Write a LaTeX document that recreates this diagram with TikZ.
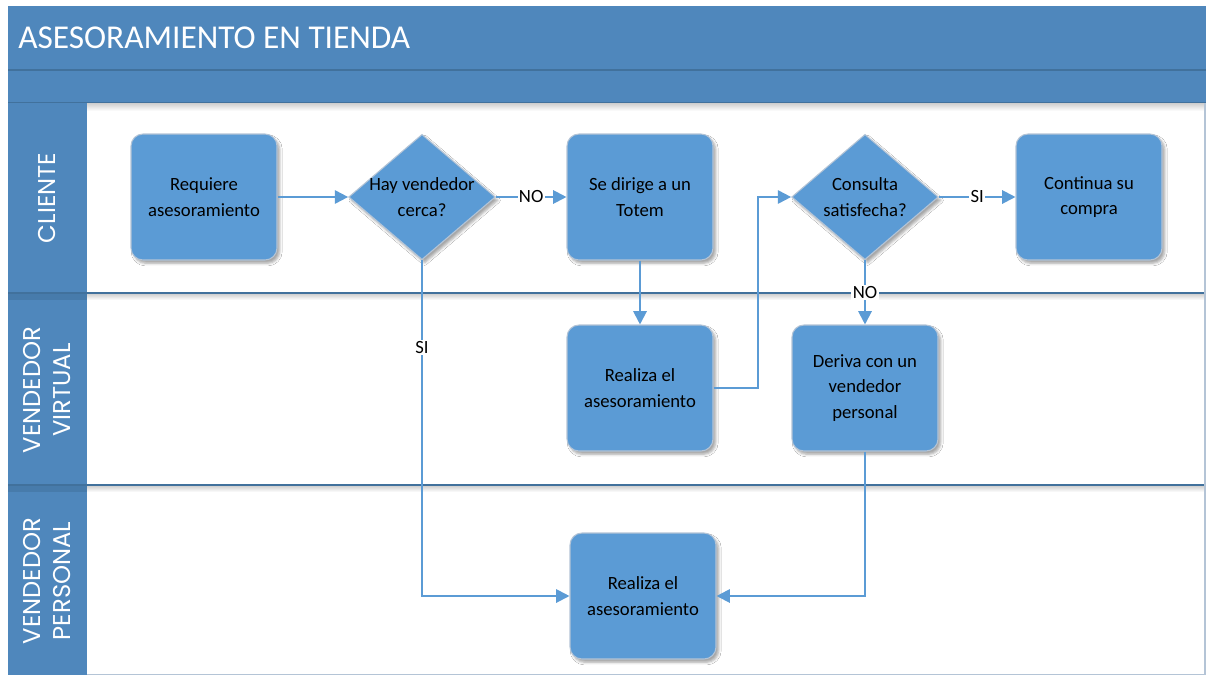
\documentclass[tikz,border=0pt]{standalone}
\usepackage{fontspec}
\setmainfont{Carlito}
\newfontfamily\lanefont{Poppins}
\usetikzlibrary{arrows.meta}
\usetikzlibrary{shapes.geometric}
\usetikzlibrary{shadows.blur}
\definecolor{barblue}{HTML}{4F87BC}
\definecolor{boxblue}{HTML}{5B9BD5}
\definecolor{laneline}{HTML}{41719C}
\definecolor{boxedge}{HTML}{B4C4D6}

\begin{document}
\begin{tikzpicture}[x=0.75pt,y=0.75pt,yscale=-1,xscale=1,
  proc/.style={rectangle, rounded corners=9pt, fill=boxblue, draw=boxedge, line width=0.8pt,
    minimum width=109.5pt, minimum height=94.5pt, align=center, font=\fontsize{14}{19}\selectfont,
    blur shadow={shadow xshift=2pt, shadow yshift=-2.5pt, shadow opacity=35}},
  decision/.style={diamond, fill=boxblue, draw=boxedge, line width=0.8pt, inner sep=0pt,
    minimum width=110pt, minimum height=94pt,
    blur shadow={shadow xshift=2pt, shadow yshift=-2.5pt, shadow opacity=35}},
  dtext/.style={align=center, font=\fontsize{14}{19}\selectfont},
  flow/.style={draw=boxblue, line width=1.5pt, -{Triangle[length=10pt,width=10pt]}},
  lbl/.style={fill=white, inner sep=1pt, font=\fontsize{14}{16}\selectfont},
  lanetext/.style={rotate=90, text=white, align=center, font=\lanefont\fontsize{18.2}{22}\selectfont},
  laneshade/.style={top color=black!18, bottom color=white}
]
\useasboundingbox (0,0) rectangle (1206,675);
\fill[white] (0,0) rectangle (1206,675);

%Shape: Title bar
\fill[barblue] (8,6) rectangle (1206,103);
\draw[laneline, line width=1.5pt] (8,70) -- (1206,70);
\draw[laneline, line width=1.5pt] (8,102.5) -- (1206,102.5);
%Shape: Lane column
\fill[barblue] (8,103) rectangle (87,675);
%Shape: Shadows under bars
\shade[laneshade] (87,103.5) rectangle (1206,111);
\shade[laneshade] (87,294) rectangle (1206,300);
\shade[laneshade] (87,486) rectangle (1206,492);
\fill[laneline, opacity=0.5] (8,294) rectangle (87,300);
\fill[laneline, opacity=0.5] (8,486) rectangle (87,492);
%Straight Lines: lane separators
\draw[laneline, line width=1.5pt] (8,293) -- (1206,293);
\draw[laneline, line width=1.5pt] (8,485) -- (1206,485);
%Shape: Frame right and bottom
\draw[boxedge, line width=0.8pt] (1205,103) -- (1205,674.5) -- (87,674.5);

% Text Node
\node[anchor=west, inner sep=0pt, text=white, font=\fontsize{25}{30}\selectfont] (title) at (18,38) {ASESORAMIENTO EN TIENDA};
% Text Node
\node[lanetext] (lcli) at (47,198) {CLIENTE};
% Text Node
\node[lanetext] (lvir) at (47,390) {VENDEDOR\\VIRTUAL};
% Text Node
\node[lanetext] (lper) at (47,581) {VENDEDOR\\PERSONAL};

%Shape: Steps
\node[proc] (req) at (204,197) {Requiere\\asesoramiento};
\node[decision] (d1) at (422,197) {};
\node[dtext] (d1txt) at (d1) {Hay vendedor\\cerca?};
\node[proc] (tot) at (640,197) {Se dirige a un\\Totem};
\node[decision] (d2) at (865,197) {};
\node[dtext] (d2txt) at (d2) {Consulta\\satisfecha?};
\node[proc] (cont) at (1089,197) {Continua su\\compra};
\node[proc] (virt) at (640,388) {Realiza el\\asesoramiento};
\node[proc] (der) at (865,388) {Deriva con un\\vendedor\\personal};
\node[proc] (pers) at (643,596) {Realiza el\\asesoramiento};
\coordinate (vbend) at (758,388);

%Connectors
\draw[flow] (req) -- (d1);
\draw[flow] (d1) -- node[lbl] {NO} (tot);
\draw[flow] (d1.south) |- node[lbl, pos=0.13] {SI} (pers.west);
\draw[flow] (tot) -- (virt);
\draw[flow] (virt.east) -- (vbend) |- (d2.west);
\draw[flow] (d2) -- node[lbl] {SI} (cont);
\draw[flow] (d2) -- node[lbl] {NO} (der);
\draw[flow] (der.south) |- (pers.east);

\end{tikzpicture}
\end{document}
